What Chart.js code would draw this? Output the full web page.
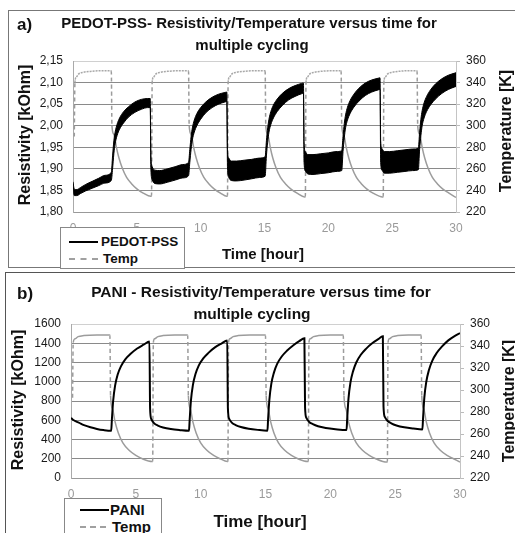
<!DOCTYPE html>
<html>
<head>
<meta charset="utf-8">
<script src="https://cdn.jsdelivr.net/npm/chart.js@4.4.1/dist/chart.umd.min.js"></script>
<style>
  html, body { margin: 0; padding: 0; background: #fff; width: 515px; height: 533px; overflow: hidden; }
  .panel { position: absolute; border: 1px solid #777; box-sizing: border-box; }
  #panelA { left: 8px; top: 10px; width: 520px; height: 258px; }
  #panelB { left: 5px; top: 272px; width: 520px; height: 270px; border-color: #555; }
  .panel canvas { position: absolute; left: 0; top: 0; }
  .legend { position: absolute; border: 1px solid #888; background: #fff; box-sizing: border-box;
            font-family: "Liberation Sans", Arial, sans-serif; font-weight: bold; color: #111; }
  .legend .row { position: absolute; left: 0; height: 16px; line-height: 16px; white-space: nowrap; }
  .legend .solid { position: absolute; top: 7px; height: 0; border-top: 2px solid #000; }
  .legend .dash { position: absolute; top: 7px; height: 0; border-top: 2px dashed #a0a0a0; }
  .legend .lbl { position: absolute; top: 0; }
</style>
</head>
<body>
<div class="panel" id="panelA"><canvas id="chartA" width="506" height="255"></canvas></div>
<div class="panel" id="panelB"><canvas id="chartB" width="509" height="260"></canvas></div>

<div class="legend" style="left:60px; top:227px; width:125px; height:42px; font-size:13.5px;">
  <div class="row" style="top:6px; width:120px;"><span class="solid" style="left:8px; width:29px;"></span><span class="lbl" style="left:40px;">PEDOT-PSS</span></div>
  <div class="row" style="top:23px; width:120px;"><span class="dash" style="left:8px; width:29px;"></span><span class="lbl" style="left:42px;">Temp</span></div>
</div>
<div class="legend" style="left:64px; top:498px; width:98px; height:42px; font-size:15px;">
  <div class="row" style="top:3px; width:96px;"><span class="solid" style="left:15px; width:29px;"></span><span class="lbl" style="left:45px;">PANI</span></div>
  <div class="row" style="top:20px; width:96px;"><span class="dash" style="left:15px; width:26px;"></span><span class="lbl" style="left:47px;">Temp</span></div>
</div>

<script>
// ---- panel a) PEDOT-PSS: noisy resistivity drawn as its upper/lower band edges [kOhm]
const pedotTime = [
  0.00, 0.10, 0.30, 0.60, 1.00, 1.50, 2.00, 2.50, 3.00,
  3.10, 3.20, 3.30, 3.45, 3.65, 3.95, 4.35, 4.85, 5.35, 5.85, 6.05,
  6.10, 6.20, 6.40, 6.80, 7.40, 8.00, 8.60, 9.05,
  9.15, 9.25, 9.35, 9.50, 9.70, 10.00, 10.40, 10.90, 11.40, 11.90, 12.05,
  12.10, 12.20, 12.40, 12.80, 13.40, 14.00, 14.60, 15.05,
  15.15, 15.25, 15.35, 15.50, 15.70, 16.00, 16.40, 16.90, 17.40, 17.90, 18.05,
  18.10, 18.20, 18.40, 18.80, 19.40, 20.00, 20.60, 21.05,
  21.15, 21.25, 21.35, 21.50, 21.70, 22.00, 22.40, 22.90, 23.40, 23.90, 24.05,
  24.10, 24.20, 24.40, 24.80, 25.40, 26.00, 26.60, 27.05,
  27.15, 27.25, 27.35, 27.50, 27.70, 28.00, 28.40, 28.90, 29.40, 29.90, 30.00
];
const pedotUpper = [
  1.870, 1.853, 1.852, 1.857, 1.864, 1.871, 1.878, 1.885, 1.892,
  1.930, 1.965, 1.985, 2.003, 2.018, 2.032, 2.044, 2.055, 2.061, 2.063, 2.063,
  1.930, 1.905, 1.897, 1.896, 1.900, 1.905, 1.910, 1.915,
  1.945, 1.975, 1.995, 2.013, 2.028, 2.042, 2.055, 2.066, 2.073, 2.077, 2.078,
  1.945, 1.925, 1.918, 1.918, 1.920, 1.922, 1.925, 1.928,
  1.965, 1.995, 2.015, 2.033, 2.048, 2.062, 2.075, 2.086, 2.093, 2.098, 2.099,
  1.960, 1.940, 1.933, 1.933, 1.935, 1.937, 1.940, 1.942,
  1.975, 2.005, 2.025, 2.043, 2.058, 2.073, 2.087, 2.099, 2.106, 2.110, 2.111,
  1.965, 1.947, 1.940, 1.940, 1.942, 1.944, 1.946, 1.948,
  1.985, 2.015, 2.035, 2.053, 2.068, 2.083, 2.097, 2.109, 2.117, 2.122, 2.123
];
const pedotLower = [
  1.856, 1.838, 1.838, 1.843, 1.849, 1.855, 1.861, 1.867, 1.873,
  1.900, 1.935, 1.958, 1.977, 1.992, 2.006, 2.020, 2.031, 2.038, 2.042, 2.042,
  1.900, 1.875, 1.866, 1.865, 1.869, 1.874, 1.879, 1.884,
  1.915, 1.945, 1.967, 1.985, 2.000, 2.015, 2.030, 2.042, 2.050, 2.055, 2.056,
  1.905, 1.880, 1.873, 1.872, 1.874, 1.877, 1.880, 1.883,
  1.930, 1.962, 1.985, 2.003, 2.018, 2.033, 2.047, 2.060, 2.068, 2.074, 2.075,
  1.915, 1.895, 1.888, 1.887, 1.889, 1.891, 1.894, 1.896,
  1.940, 1.972, 1.995, 2.013, 2.028, 2.043, 2.057, 2.070, 2.078, 2.083, 2.084,
  1.915, 1.897, 1.890, 1.890, 1.892, 1.894, 1.896, 1.898,
  1.945, 1.977, 2.000, 2.018, 2.033, 2.048, 2.062, 2.075, 2.084, 2.090, 2.091
];

// ---- panel a) temperature [K]
const tempATime = [
  0.10, 0.15, 0.25, 0.45, 0.80, 1.50, 2.30, 3.00,
  3.05, 3.20, 3.40, 3.60, 3.85, 4.20, 4.60, 5.00, 5.50, 6.10,
  6.15, 6.20, 6.30, 6.50, 6.85, 7.50, 8.30, 9.05,
  9.10, 9.25, 9.45, 9.65, 9.90, 10.25, 10.65, 11.05, 11.55, 12.05,
  12.10, 12.15, 12.25, 12.45, 12.80, 13.50, 14.30, 15.05,
  15.10, 15.25, 15.45, 15.65, 15.90, 16.25, 16.65, 17.05, 17.55, 18.15,
  18.20, 18.25, 18.35, 18.55, 18.90, 19.50, 20.30, 21.00,
  21.05, 21.20, 21.40, 21.60, 21.85, 22.20, 22.60, 23.00, 23.50, 24.25,
  24.30, 24.35, 24.45, 24.65, 25.00, 25.60, 26.30, 26.95,
  27.00, 27.15, 27.35, 27.55, 27.80, 28.15, 28.55, 28.95, 29.45, 30.00
];
const tempAValues = [
  290, 340, 345, 348, 349.5, 350.5, 351, 351,
  300, 292, 280, 270, 261, 252, 246, 241.5, 237.5, 234.5,
  234.5, 340, 345, 348, 349.5, 350.5, 351, 351,
  300, 292, 280, 270, 261, 252, 246, 241.5, 237.5, 234.5,
  234.5, 340, 345, 348, 349.5, 350.5, 351, 351,
  300, 292, 280, 270, 261, 252, 246, 241.5, 237.5, 234,
  234, 340, 345, 348, 349.5, 350.5, 351, 351,
  300, 292, 280, 270, 261, 252, 246, 241.5, 237.5, 234,
  234, 340, 345, 348, 349.5, 350.5, 351, 351,
  300, 292, 280, 270, 261, 252, 246, 241.5, 237.5, 233.5
];

// ---- panel b) PANI resistivity [kOhm]
const paniTime = [
  0.00, 0.15, 0.35, 0.60, 1.00, 1.50, 2.00, 2.50, 3.10,
  3.15, 3.25, 3.40, 3.60, 3.85, 4.20, 4.60, 5.10, 5.60, 6.05,
  6.10, 6.20, 6.40, 6.70, 7.10, 7.70, 8.40, 9.10,
  9.15, 9.25, 9.40, 9.60, 9.85, 10.20, 10.60, 11.10, 11.60, 12.05,
  12.10, 12.20, 12.40, 12.70, 13.10, 13.70, 14.40, 15.15,
  15.20, 15.30, 15.45, 15.65, 15.90, 16.25, 16.65, 17.15, 17.60, 18.00,
  18.05, 18.15, 18.35, 18.65, 19.05, 19.65, 20.40, 21.25,
  21.30, 21.40, 21.55, 21.75, 22.00, 22.35, 22.75, 23.25, 23.70, 24.05,
  24.10, 24.20, 24.40, 24.70, 25.10, 25.70, 26.40, 27.10,
  27.15, 27.25, 27.40, 27.60, 27.85, 28.20, 28.60, 29.10, 29.55, 30.00
];
const paniValues = [
  625, 605, 590, 575, 550, 527, 510, 498, 490,
  600, 800, 960, 1075, 1160, 1235, 1290, 1345, 1385, 1418,
  720, 610, 570, 545, 525, 508, 497, 490,
  600, 805, 965, 1080, 1168, 1243, 1300, 1357, 1397, 1428,
  725, 615, 575, 550, 530, 512, 500, 492,
  610, 815, 980, 1095, 1185, 1262, 1322, 1380, 1422, 1452,
  735, 625, 585, 560, 538, 520, 507, 498,
  615, 825, 990, 1108, 1200, 1280, 1342, 1402, 1443, 1472,
  745, 635, 595, 568, 546, 527, 514, 505,
  620, 835, 1000, 1120, 1215, 1298, 1365, 1430, 1472, 1505
];

// ---- panel b) temperature [K]
const tempBTime = [
  0.12, 0.17, 0.30, 0.55, 1.00, 2.00, 3.00,
  3.05, 3.20, 3.40, 3.65, 4.00, 4.50, 5.00, 5.50, 6.25,
  6.30, 6.35, 6.45, 6.70, 7.10, 8.00, 9.00,
  9.05, 9.20, 9.40, 9.65, 10.00, 10.50, 11.00, 11.50, 12.05,
  12.10, 12.15, 12.25, 12.50, 12.90, 13.80, 15.00,
  15.05, 15.20, 15.40, 15.65, 16.00, 16.50, 17.00, 17.50, 18.25,
  18.30, 18.35, 18.45, 18.70, 19.10, 20.00, 21.00,
  21.05, 21.20, 21.40, 21.65, 22.00, 22.50, 23.00, 23.50, 24.35,
  24.40, 24.45, 24.55, 24.80, 25.20, 26.00, 27.00,
  27.05, 27.20, 27.40, 27.65, 28.00, 28.50, 29.00, 29.50, 30.00
];
const tempBValues = [
  293, 343, 346.5, 348.5, 349.5, 350, 350,
  295, 283, 271, 261, 252, 245, 240.5, 237.5, 235,
  235, 343, 346.5, 348.5, 349.5, 350, 350,
  295, 283, 271, 261, 252, 245, 240.5, 237.5, 235,
  235, 343, 346.5, 348.5, 349.5, 350, 350,
  295, 283, 271, 261, 252, 245, 240.5, 237.5, 235,
  235, 343, 346.5, 348.5, 349.5, 350, 350,
  295, 283, 271, 261, 252, 245, 240.5, 237.5, 234.5,
  234.5, 343, 346.5, 348.5, 349.5, 350, 350,
  295, 283, 271, 261, 252, 245, 240.5, 237.5, 234.5
];

const FONT = '"Liberation Sans", Arial, sans-serif';

function pts(xs, ys) {
  return xs.map((x, i) => ({ x: x, y: ys[i] }));
}

// draws panel label, title, and the three axis titles
const panelText = {
  id: "panelText",
  afterDraw(chart, args, opts) {
    const ctx = chart.ctx;
    ctx.save();
    ctx.fillStyle = "#111";
    ctx.textBaseline = "middle";
    for (const t of opts.items) {
      ctx.font = t.font;
      ctx.textAlign = t.align || "center";
      ctx.save();
      ctx.translate(t.x, t.y);
      if (t.rot) ctx.rotate(t.rot);
      ctx.fillText(t.text, 0, 0);
      ctx.restore();
    }
    ctx.restore();
  }
};

// vertical jumps of the temperature trace show as dashes, dense parts look solid
const jumpDash = ctx => Math.abs(ctx.p1.parsed.y - ctx.p0.parsed.y) > 25 ? [4, 3] : undefined;
// panel a) plateaus look finely dotted and lighter
const jumpDashA = ctx => {
  if (Math.abs(ctx.p1.parsed.y - ctx.p0.parsed.y) > 25) return [4, 3];
  if (ctx.p0.parsed.y > 339 && ctx.p1.parsed.y > 339) return [2, 1];
  return undefined;
};
const plateauColorA = ctx => (ctx.p0.parsed.y > 339 && ctx.p1.parsed.y > 339) ? "#a8a8a8" : undefined;

function createPanel(canvas, datasets, y, y1, box, texts) {
  return new Chart(canvas, {
    type: "line",
    data: { datasets: datasets },
    options: {
      responsive: false,
      animation: false,
      events: [],
      layout: { padding: { top: box.top, left: 0, right: 0, bottom: 0 } },
      elements: { point: { radius: 0 }, line: { cubicInterpolationMode: "monotone" } },
      scales: {
        x: {
          type: "linear", min: 0, max: 30,
          ticks: { stepSize: 5, color: "#9a9a9a", padding: 9, font: { family: FONT, size: 12 } },
          grid: { display: false, drawTicks: false },
          border: { color: "#999" },
          afterFit: s => { s.height = box.bottom; }
        },
        y: {
          position: "left", min: y.min, max: y.max,
          ticks: { stepSize: y.step, color: "#1a1a1a", padding: 10, font: { family: FONT, size: y.size },
                   callback: y.fmt },
          grid: { drawTicks: false, color: c => c.tick && c.tick.value >= y.max - 1e-9 ? "#d0d0d0" : "#8a8a8a" },
          border: { color: "#aaa" },
          afterFit: s => { s.width = box.left; }
        },
        y1: {
          position: "right", min: y1.min, max: y1.max,
          ticks: { stepSize: y1.step, color: "#1a1a1a", padding: 6, font: { family: FONT, size: y1.size } },
          grid: { drawOnChartArea: false, tickLength: 4, color: "#bbb" },
          border: { color: "#c4c4c4" },
          afterFit: s => { s.width = box.right; }
        }
      },
      plugins: {
        legend: { display: false },
        tooltip: { enabled: false },
        panelText: { items: texts }
      }
    },
    plugins: [panelText]
  });
}

// a) PEDOT-PSS
createPanel(
  document.getElementById("chartA"),
  [
    { label: "PEDOT-PSS", data: pts(pedotTime, pedotUpper), yAxisID: "y",
      borderColor: "#000", borderWidth: 1, fill: false },
    { label: "PEDOT-PSS", data: pts(pedotTime, pedotLower), yAxisID: "y",
      borderColor: "#000", borderWidth: 1, fill: "-1", backgroundColor: "#000" },
    { label: "Temp", data: pts(tempATime, tempAValues), yAxisID: "y1",
      borderColor: "#9c9c9c", borderWidth: 1.5, borderDash: [], fill: false,
      segment: { borderDash: jumpDashA, borderColor: plateauColorA } }
  ],
  { min: 1.8, max: 2.15, step: 0.05, size: 12, fmt: v => v.toFixed(2).replace(".", ",") },
  { min: 220, max: 360, step: 20, size: 12 },
  { top: 50, left: 64, right: 59, bottom: 54 },
  [
    { text: "a)", x: 8, y: 14, align: "left", font: "bold 17px " + FONT },
    { text: "PEDOT-PSS- Resistivity/Temperature versus time for", x: 240, y: 13, font: "bold 15px " + FONT },
    { text: "multiple cycling", x: 243, y: 35, font: "bold 15px " + FONT },
    { text: "Resistivity [kOhm]", x: 16.5, y: 124, rot: -Math.PI / 2, font: "bold 16px " + FONT },
    { text: "Temperature [K]", x: 498, y: 120, rot: -Math.PI / 2, font: "bold 16px " + FONT },
    { text: "Time [hour]", x: 254, y: 244, font: "bold 15px " + FONT }
  ]
);

// b) PANI
createPanel(
  document.getElementById("chartB"),
  [
    { label: "PANI", data: pts(paniTime, paniValues), yAxisID: "y",
      borderColor: "#000", borderWidth: 2, fill: false },
    { label: "Temp", data: pts(tempBTime, tempBValues), yAxisID: "y1",
      borderColor: "#9c9c9c", borderWidth: 1.5, borderDash: [], fill: false,
      segment: { borderDash: jumpDash } }
  ],
  { min: 0, max: 1600, step: 200, size: 12, fmt: v => String(v) },
  { min: 220, max: 360, step: 20, size: 12 },
  { top: 51, left: 65, right: 55, bottom: 55 },
  [
    { text: "b)", x: 11, y: 21, align: "left", font: "bold 17px " + FONT },
    { text: "PANI - Resistivity/Temperature versus time for", x: 255, y: 20, font: "bold 15.5px " + FONT },
    { text: "multiple cycling", x: 246, y: 42, font: "bold 15.5px " + FONT },
    { text: "Resistivity [kOhm]", x: 12.5, y: 127, rot: -Math.PI / 2, font: "bold 16px " + FONT },
    { text: "Temperature [K]", x: 504, y: 128, rot: -Math.PI / 2, font: "bold 16px " + FONT },
    { text: "Time [hour]", x: 254, y: 249, font: "bold 17px " + FONT }
  ]
);
</script>
</body>
</html>
